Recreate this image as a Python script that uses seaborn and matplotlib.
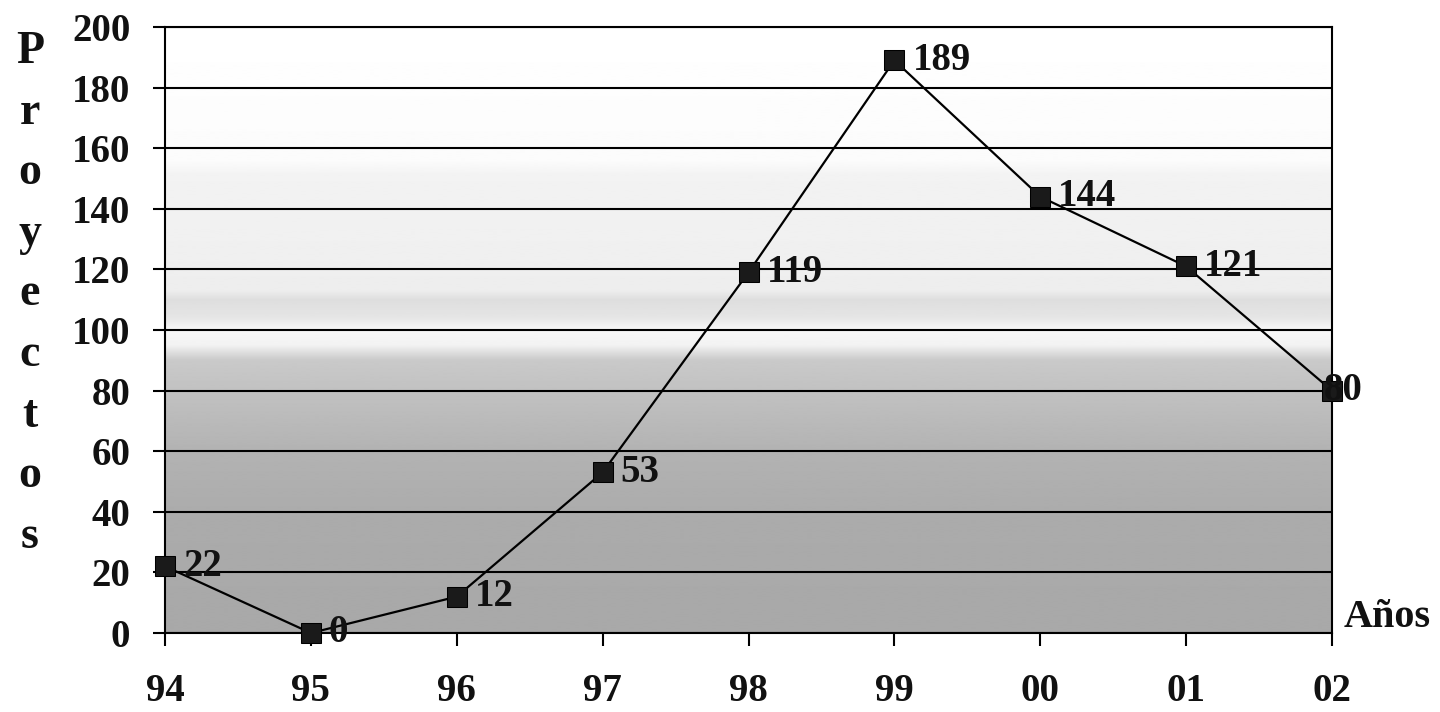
import numpy as np
import pandas as pd
import matplotlib
matplotlib.use("Agg")
import matplotlib.pyplot as plt
import seaborn as sns

# Projects per year
years = ["94", "95", "96", "97", "98", "99", "00", "01", "02"]
projects = [22, 0, 12, 53, 119, 189, 144, 121, 80]
y_ticks = [0, 20, 40, 60, 80, 100, 120, 140, 160, 180, 200]
y_title = "Proyectos"
x_title = "Años"

sns.set_theme(style="white")
plt.rcParams["font.family"] = ["Liberation Serif", "DejaVu Serif"]
plt.rcParams["font.weight"] = "bold"

W, H, DPI = 1440, 712, 100
fig = plt.figure(figsize=(W / DPI, H / DPI), dpi=DPI)
fig.patch.set_facecolor("white")

# plot area in pixels: left 165, right 1332, top 27, bottom 633
ax = fig.add_axes([165 / W, (H - 633) / H, (1332 - 165) / W, (633 - 27) / H])

pos = np.arange(len(years))
df = pd.DataFrame({"pos": pos, "proyectos": projects})

# shaded plot-area background (vertical fill, light at the top, grey below)
stops_v = [200, 156, 151, 126, 113, 110, 104, 100, 95, 90, 77, 60, 37, 0]
stops_g = [1.0, 0.985, 0.95, 0.94, 0.93, 0.87, 0.90, 0.97, 0.95, 0.79, 0.75, 0.70, 0.67, 0.66]
yy = np.linspace(0, 200, 600)
shade = np.interp(yy, stops_v[::-1], stops_g[::-1])
ax.imshow(shade[:, None], extent=[0, 8, 0, 200], origin="lower", aspect="auto",
          cmap="gray", vmin=0, vmax=1, zorder=0, interpolation="bilinear")

# horizontal gridlines
for v in y_ticks:
    ax.axhline(v, color="black", lw=1.5, zorder=1)

sns.lineplot(data=df, x="pos", y="proyectos", ax=ax, color="black", lw=1.6,
             marker="s", markersize=14, markerfacecolor="#1a1a1a",
             markeredgecolor="black", zorder=3, clip_on=False)

# value labels
for p, v in zip(pos, projects):
    dx = 13 if p < len(pos) - 1 else 8
    ha = "left" if p < len(pos) - 1 else "center"
    ax.annotate(str(v), (p, v), xytext=(dx, 0), textcoords="offset points",
                ha=ha, va="center", fontsize=28, fontweight="bold",
                color="#111111", zorder=4, annotation_clip=False)

ax.set_xlim(0, 8)
ax.set_ylim(0, 200)
ax.set_xticks(pos)
ax.set_xticklabels(years)
ax.set_yticks(y_ticks)
ax.set_yticklabels([str(t) for t in y_ticks])
ax.set_xlabel("")
ax.set_ylabel("")

ax.tick_params(axis="y", direction="out", length=9, width=1.5, color="black",
               pad=16, labelsize=28, labelcolor="#111111")
ax.tick_params(axis="x", direction="out", length=9, width=1.5, color="black",
               pad=20, labelsize=28, labelcolor="#111111")
ax.tick_params(left=True, bottom=True)
for lab in ax.get_xticklabels() + ax.get_yticklabels():
    lab.set_fontweight("bold")

for side in ["left", "right", "bottom", "top"]:
    ax.spines[side].set_visible(True)
    ax.spines[side].set_color("black")
    ax.spines[side].set_linewidth(1.5)

# vertical axis title, one letter per line
for i, ch in enumerate(y_title):
    fig.text(30 / W, 1 - (63 + 60.6 * i) / H, ch, ha="center", va="baseline",
             fontsize=33, fontweight="bold", color="#111111")

# horizontal axis title, bottom right
fig.text(1344 / W, 1 - 627 / H, x_title, ha="left", va="baseline",
         fontsize=29, fontweight="bold", color="#111111")

fig.savefig("out.png", dpi=DPI, facecolor="white")
